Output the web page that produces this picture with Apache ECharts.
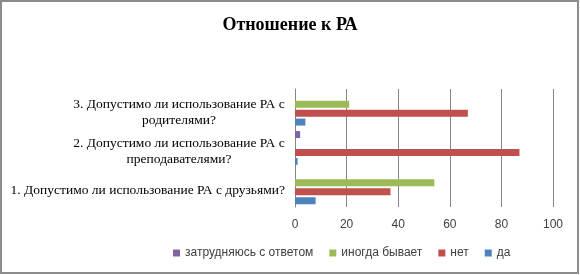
<!DOCTYPE html>
<html>
<head>
<meta charset="utf-8">
<script src="https://cdn.jsdelivr.net/npm/echarts@6/dist/echarts.min.js"></script>
<style>
  html, body { margin: 0; padding: 0; background: #fff; }
  #wrap { position: relative; width: 580px; height: 275px; }
  #chart { position: absolute; left: 0; top: 0; width: 580px; height: 275px; }
  #frame { position: absolute; left: 0; top: 0; width: 575px; height: 270px; border: 2px solid #8c8c8c; pointer-events: none; }
</style>
</head>
<body>
<div id="wrap">
  <div id="chart"></div>
  <div id="frame"></div>
</div>
<script>
const categories = [
  '1. Допустимо ли использование РА с друзьями?',
  '2. Допустимо ли использование РА с\nпреподавателями?',
  '3. Допустимо ли использование РА с\nродителями?'
];
const hardToSay = [0, 2, 0];
const sometimes = [54, 0, 21];
const no = [37, 87, 67];
const yes = [8, 1, 4];
const xTicks = [0, 20, 40, 60, 80, 100];

const colors = {
  hard: '#8064a2',
  sometimes: '#9bbb59',
  no: '#c0504d',
  yes: '#4f81bd'
};

const chart = echarts.init(document.getElementById('chart'));

function barSeries(name, data, color) {
  return {
    name,
    type: 'bar',
    data,
    barWidth: 7,
    barGap: '28%',
    itemStyle: { color },
    animation: false
  };
}

const serifLabel = { fontFamily: 'Liberation Serif', fontSize: 13.5, color: '#000', lineHeight: 16 };

const option = {
  animation: false,
  title: {
    text: 'Отношение к РА',
    left: 'center',
    top: 11,
    textStyle: {
      fontFamily: 'Liberation Serif',
      fontWeight: 'bold',
      fontSize: 18,
      color: '#000'
    }
  },
  legend: {
    bottom: 11,
    left: 168,
    icon: 'rect',
    itemWidth: 7,
    itemHeight: 7,
    itemGap: 16,
    textStyle: { fontFamily: 'Liberation Sans', fontSize: 12, color: '#404040' },
    data: ['затрудняюсь с ответом', 'иногда бывает', 'нет', 'да']
  },
  grid: { left: 295, right: 27, top: 89, bottom: 68 },
  xAxis: {
    type: 'value',
    min: xTicks[0],
    max: xTicks[xTicks.length - 1],
    interval: 20,
    axisLine: { show: false },
    axisTick: { show: false },
    splitLine: { lineStyle: { color: '#868686', width: 1 } },
    axisLabel: { fontFamily: 'Liberation Sans', fontSize: 12, color: '#404040', margin: 12 }
  },
  yAxis: {
    type: 'category',
    data: categories,
    axisLine: { show: true, lineStyle: { color: '#868686' } },
    axisTick: { show: false },
    axisLabel: {
      margin: 10,
      padding: [7, 0, 0, 0],
      formatter: v => {
        const lines = v.split('\n');
        if (lines.length === 1) return '{s|' + v + '}';
        return lines.map(l => '{m|' + l + '}').join('\n');
      },
      rich: {
        s: serifLabel,
        m: Object.assign({ width: 212, align: 'center' }, serifLabel)
      }
    }
  },
  series: [
    barSeries('затрудняюсь с ответом', hardToSay, colors.hard),
    barSeries('иногда бывает', sometimes, colors.sometimes),
    barSeries('нет', no, colors.no),
    barSeries('да', yes, colors.yes)
  ]
};

chart.setOption(option);
</script>
</body>
</html>
